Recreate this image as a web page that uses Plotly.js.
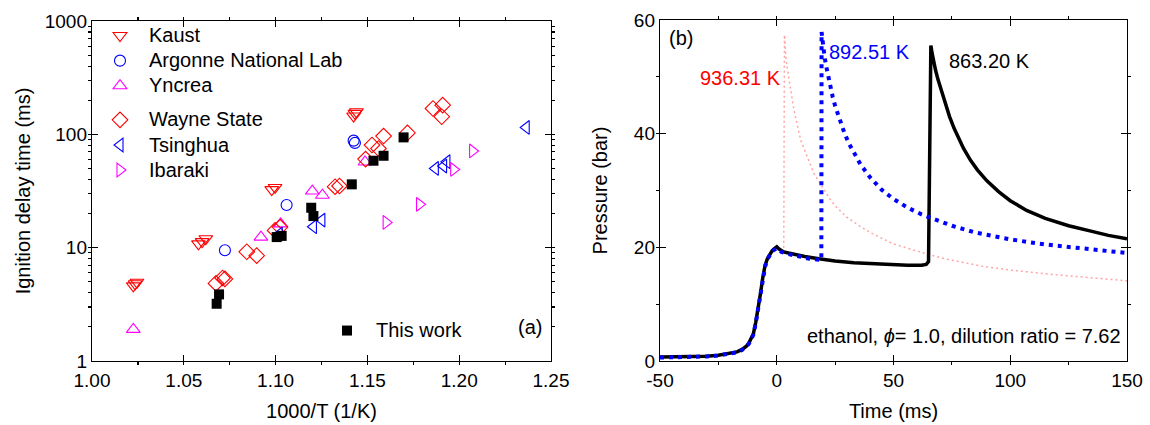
<!DOCTYPE html>
<html>
<head>
<meta charset="utf-8">
<script src="https://cdn.plot.ly/plotly-3.0.1.min.js"></script>
<style>
  html, body { margin: 0; padding: 0; background: #ffffff; }
  #chart { width: 1150px; height: 425px; }
</style>
</head>
<body>
<div id="chart"></div>
<script>
// ---------- (a) ignition delay times vs. inverse temperature ----------
const kaustX = [1.0225, 1.0235, 1.0245, 1.058, 1.060, 1.062, 1.0979, 1.0997, 1.1425, 1.1432, 1.144];
const kaustY = [4.6, 4.8, 4.95, 10.8, 11.3, 12.0, 32.5, 34, 145, 153, 158];

const argonneX = [1.0724, 1.106, 1.1425, 1.1432];
const argonneY = [9.5, 23.8, 88, 84];

const yncreaX = [1.0225, 1.092, 1.1028, 1.120, 1.1255, 1.1487];
const yncreaY = [1.9, 12.4, 16.2, 31.6, 29, 57];

const wayneX = [1.0675, 1.0711, 1.0724, 1.0843, 1.0897, 1.0997, 1.1024, 1.1324, 1.1348,
                1.149, 1.1525, 1.156, 1.1588, 1.1718, 1.1857, 1.191, 1.1905];
const wayneY = [4.84, 5.4, 5.3, 9.2, 8.5, 14.2, 15.2, 34.5, 35,
                60.5, 80.5, 75, 96.6, 103, 169, 181, 143];

const tsinghuaX = [1.102, 1.1206, 1.1252, 1.187, 1.1915, 1.1933, 1.2365];
const tsinghuaY = [13.2, 15.3, 17.5, 50, 52.5, 57.3, 115];

const ibarakiX = [1.1602, 1.1784, 1.197, 1.2073];
const ibarakiY = [16.7, 24.1, 49, 71.3];

const thisWorkX = [1.0679, 1.0692, 1.1006, 1.1033, 1.1194, 1.1206, 1.1415, 1.1533, 1.1588, 1.1697];
const thisWorkY = [3.2, 3.87, 12.4, 12.7, 22.5, 19, 36.2, 58.5, 64.7, 94];

const invTTicks = [1.00, 1.05, 1.10, 1.15, 1.20, 1.25];
const invTLabels = ['1.00', '1.05', '1.10', '1.15', '1.20', '1.25'];
const idtTicks = [1, 10, 100, 1000];
const idtLabels = ['1', '10', '100', '1000'];

// ---------- (b) pressure traces ----------
const time863 = [-50, -40, -30, -25, -20, -17, -15, -13, -12, -11, -10, -9, -8, -7, -6, -5, -4, -3, -2, -1, 0,
                 1, 2, 3, 5, 8, 12, 18, 25, 33, 42, 50, 56, 62, 64, 65, 65.5, 66, 66.5, 67, 68, 69, 70,
                 71, 72, 74, 76, 78, 80, 83, 86, 90, 95, 100, 107, 115, 125, 135, 142, 150];
const pres863 = [0.7, 0.72, 0.85, 1.0, 1.3, 1.6, 2.0, 2.6, 3.1, 3.8, 4.8, 6.8, 9.1, 11.8, 14.6, 16.8, 18.0, 18.8, 19.4, 19.8, 20.1,
                 19.7, 19.4, 19.2, 19.0, 18.7, 18.4, 18.0, 17.6, 17.3, 17.1, 16.9, 16.85, 16.85, 17.0, 17.5, 35, 55.5, 54.2, 53.1, 51.2, 49.6, 48.2,
                 46.8, 45.5, 43.0, 40.9, 39.1, 37.4, 35.3, 33.6, 31.7, 29.8, 28.2, 26.5, 25.1, 23.8, 22.8, 22.1, 21.5];

const time892 = [-50, -40, -30, -25, -20, -17, -15, -13, -12, -11, -10, -9, -8, -7, -6, -5, -4, -3, -2, -1, 0,
                 1, 2, 4, 7, 10, 14, 18, 19.1, 19.2, 19.6, 20.3, 21, 22, 23, 24, 25, 27, 29, 31, 33,
                 36, 40, 45, 50, 56, 62, 68, 75, 85, 100, 115, 130, 150];
const pres892 = [0.6, 0.65, 0.8, 0.95, 1.25, 1.55, 1.9, 2.5, 3.0, 3.7, 4.7, 6.6, 9.0, 11.8, 14.5, 16.6, 17.9, 18.7, 19.3, 19.6, 19.8,
                 19.5, 19.2, 18.9, 18.6, 18.3, 18.0, 17.8, 17.8, 57.9, 55.9, 54.1, 52.2, 50.0, 48.1, 46.4, 44.9, 42.3, 40.1, 38.2, 36.6,
                 34.5, 32.3, 30.1, 28.5, 27.0, 25.8, 24.8, 23.8, 22.6, 21.4, 20.5, 19.8, 19.0];

const time936 = [-50, -40, -30, -25, -20, -17, -15, -13, -12, -11, -10, -9, -8, -7, -6, -5, -4, -3, -2, -1, 0,
                 1, 2, 3, 3.3, 4, 5.3, 7.4, 10.3, 15.9, 23.1, 25, 30, 36, 41, 50, 64.5, 73, 87.6, 100, 119, 135, 150];
const pres936 = [0.6, 0.65, 0.8, 0.95, 1.25, 1.55, 1.9, 2.5, 3.0, 3.7, 4.7, 6.6, 9.0, 11.8, 14.5, 16.6, 17.9, 18.7, 19.3, 19.6, 19.8,
                 19.6, 19.4, 19.3, 57.4, 53.0, 49.4, 44.1, 38.8, 33.0, 28.3, 27.3, 25.3, 23.6, 22.4, 20.6, 18.8, 17.9, 16.7, 16.0, 15.2, 14.6, 14.1];

const timeTicks = [-50, 0, 50, 100, 150];
const timeLabels = ['-50', '0', '50', '100', '150'];
const presTicks = [0, 20, 40, 60];
const presLabels = ['0', '20', '40', '60'];

const FONT = 'Liberation Sans, Arial, Helvetica, sans-serif';
const RED = '#ff0000', BLUE = '#0000ff', MAGENTA = '#ff00ff';

function entry(name) {
  return '<span style="font-size:20px">' + name + '</span>';
}

function scatter(x, y, name, symbol, color, size, group) {
  return {
    type: 'scatter', mode: 'markers', x: x, y: y, name: entry(name),
    xaxis: 'x', yaxis: 'y', legend: 'legend', legendgroup: group,
    marker: { symbol: symbol, size: size, color: color, line: { color: color, width: 1.1 } },
    hoverinfo: 'x+y'
  };
}

const traces = [
  scatter(kaustX, kaustY, 'Kaust', 'triangle-down-open', RED, 12, 'g1'),
  scatter(argonneX, argonneY, 'Argonne National Lab', 'circle-open', BLUE, 11, 'g1'),
  scatter(yncreaX, yncreaY, 'Yncrea', 'triangle-up-open', MAGENTA, 12, 'g1'),
  scatter(wayneX, wayneY, 'Wayne State', 'diamond-open', RED, 12, 'g2'),
  scatter(tsinghuaX, tsinghuaY, 'Tsinghua', 'triangle-left-open', BLUE, 12, 'g2'),
  scatter(ibarakiX, ibarakiY, 'Ibaraki', 'triangle-right-open', MAGENTA, 12, 'g2'),
  {
    type: 'scatter', mode: 'markers', x: thisWorkX, y: thisWorkY, name: entry('This work'),
    xaxis: 'x', yaxis: 'y', legend: 'legend2',
    marker: { symbol: 'square', size: 10, color: '#000000' }
  },
  {
    type: 'scatter', mode: 'lines', x: time936, y: pres936, name: '936.31 K',
    xaxis: 'x2', yaxis: 'y2', showlegend: false,
    line: { color: 'rgba(255,90,90,0.55)', width: 1.5, dash: '2px,3px' }
  },
  {
    type: 'scatter', mode: 'lines', x: time863, y: pres863, name: '863.20 K',
    xaxis: 'x2', yaxis: 'y2', showlegend: false,
    line: { color: '#000000', width: 3.5 }
  },
  {
    type: 'scatter', mode: 'lines', x: time892, y: pres892, name: '892.51 K',
    xaxis: 'x2', yaxis: 'y2', showlegend: false,
    line: { color: BLUE, width: 4, dash: '4px,5px' }
  }
];

const axisBase = {
  showline: true, linecolor: '#000000', linewidth: 1.2, mirror: 'allticks',
  ticks: 'inside', ticklen: 6, tickwidth: 1.2, tickcolor: '#000000',
  showgrid: false, zeroline: false, automargin: false,
  tickfont: { family: FONT, size: 19, color: '#000000' }
};

const layout = {
  width: 1150, height: 425,
  margin: { l: 0, r: 0, t: 0, b: 0 },
  paper_bgcolor: '#ffffff', plot_bgcolor: '#ffffff',
  font: { family: FONT, color: '#000000' },
  xaxis: Object.assign({}, axisBase, {
    domain: [92 / 1150, 551 / 1150], range: [1.0, 1.25],
    tickmode: 'array', tickvals: invTTicks, ticktext: invTLabels, ticklabelstandoff: 2,
    minor: { tick0: 1.0, dtick: 0.025, ticklen: 3, tickcolor: '#000000', showgrid: false },
    title: { text: '1000/T (1/K)', font: { family: FONT, size: 20 }, standoff: 14 },
    anchor: 'y'
  }),
  yaxis: Object.assign({}, axisBase, {
    domain: [64 / 425, 404 / 425], type: 'log', range: [0, 3],
    tickmode: 'array', tickvals: idtTicks, ticktext: idtLabels,
    minor: { dtick: 'D1', ticklen: 3, tickcolor: '#000000', showgrid: false },
    title: { text: 'Ignition delay time (ms)', font: { family: FONT, size: 20 }, standoff: 8 },
    anchor: 'x'
  }),
  xaxis2: Object.assign({}, axisBase, {
    domain: [660 / 1150, 1127 / 1150], range: [-50, 150],
    tickmode: 'array', tickvals: timeTicks, ticktext: timeLabels, ticklabelstandoff: 2,
    minor: { tick0: -50, dtick: 25, ticklen: 3, tickcolor: '#000000', showgrid: false },
    title: { text: 'Time (ms)', font: { family: FONT, size: 20 }, standoff: 14 },
    anchor: 'y2'
  }),
  yaxis2: Object.assign({}, axisBase, {
    domain: [64 / 425, 405 / 425], range: [0, 60],
    tickmode: 'array', tickvals: presTicks, ticktext: presLabels,
    minor: { tick0: 0, dtick: 10, ticklen: 3, tickcolor: '#000000', showgrid: false },
    title: { text: 'Pressure (bar)', font: { family: FONT, size: 20 }, standoff: 20 },
    anchor: 'x2'
  }),
  legend: {
    x: 91 / 1150, y: 407 / 425, xanchor: 'left', yanchor: 'top',
    bgcolor: 'rgba(0,0,0,0)', borderwidth: 0,
    font: { family: FONT, size: 17, color: '#000000' },
    traceorder: 'grouped', tracegroupgap: 9, itemwidth: 48
  },
  legend2: {
    x: 318 / 1150, y: 112 / 425, xanchor: 'left', yanchor: 'top',
    bgcolor: 'rgba(0,0,0,0)', borderwidth: 0,
    font: { family: FONT, size: 17, color: '#000000' },
    itemwidth: 48
  },
  annotations: [
    { xref: 'x', yref: 'y', x: 1.2386, y: 0.30, text: '(a)', showarrow: false,
      font: { family: FONT, size: 20, color: '#000000' } },
    { xref: 'x2', yref: 'y2', x: -47, y: 56.8, text: '(b)', showarrow: false, xanchor: 'left',
      font: { family: FONT, size: 20, color: '#000000' } },
    { xref: 'x2', yref: 'y2', x: 2.6, y: 49.8, text: '936.31 K', showarrow: false, xanchor: 'right',
      font: { family: FONT, size: 20, color: RED } },
    { xref: 'x2', yref: 'y2', x: 21.5, y: 54.4, text: '892.51 K', showarrow: false, xanchor: 'left',
      font: { family: FONT, size: 20, color: BLUE } },
    { xref: 'x2', yref: 'y2', x: 73, y: 52.8, text: '863.20 K', showarrow: false, xanchor: 'left',
      font: { family: FONT, size: 20, color: '#000000' } },
    { xref: 'x2', yref: 'y2', x: 148.3, y: 4.4, text: 'ethanol, <i>\u03d5</i>= 1.0, dilution ratio = 7.62',
      showarrow: false, xanchor: 'right',
      font: { family: FONT, size: 20, color: '#000000' } }
  ]
};

Plotly.newPlot('chart', traces, layout, { displayModeBar: false, staticPlot: true });
</script>
</body>
</html>
